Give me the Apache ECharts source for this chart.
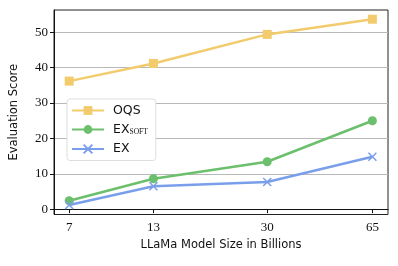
<!DOCTYPE html>
<html><head><meta charset="utf-8">
<script src="https://cdn.jsdelivr.net/npm/echarts@6/dist/echarts.min.js"></script>
<style>html,body{margin:0;padding:0;background:#fff}#c{width:398px;height:266px}</style>
</head><body><div id="c"></div>
<script>
const sizes = [7, 13, 30, 65];
const oqs = [36.2, 41.2, 49.4, 53.7];
const exSoft = [2.4, 8.6, 13.4, 25.0];
const ex = [1.2, 6.5, 7.7, 14.8];
const yTicks = [0, 10, 20, 30, 40, 50];
const seriesNames = ['OQS', 'EX_SOFT', 'EX'];
const colors = ['#F2CB6C', '#6CBF6C', '#7A9FEA'];

const pair = (xs, ys) => xs.map((x, i) => [x, ys[i]]);
const chart = echarts.init(document.getElementById('c'), null, {renderer: 'canvas'});
const serif = 'Liberation Serif';
const sans = 'DejaVu Sans';
chart.setOption({
  animation: false,
  grid: {left: 52, right: 10, top: 10, bottom: 51.5, show: true, borderColor: '#222', borderWidth: 1, backgroundColor: 'transparent'},
  xAxis: {
    type: 'log', logBase: 10, min: 6.26, max: 72.9,
    name: 'LLaMa Model Size in Billions', nameLocation: 'middle', nameGap: 23,
    nameTextStyle: {fontFamily: sans, fontSize: 11.5, color: '#111'},
    axisLine: {show: true, lineStyle: {color: '#111', width: 1}},
    axisTick: {show: true, customValues: sizes, length: 4, lineStyle: {color: '#111'}},
    axisLabel: {customValues: sizes, fontFamily: serif, fontSize: 13, color: '#111', margin: 7},
    splitLine: {show: false}, minorTick: {show: false}, minorSplitLine: {show: false}
  },
  yAxis: {
    type: 'value', min: -1.5, max: 56.3,
    name: 'Evaluation Score', nameLocation: 'middle', nameGap: 34,
    nameTextStyle: {fontFamily: sans, fontSize: 11.5, color: '#111'},
    axisLine: {show: true, lineStyle: {color: '#111', width: 1}},
    axisTick: {show: true, customValues: yTicks, length: 4, lineStyle: {color: '#111'}},
    axisLabel: {customValues: yTicks, fontFamily: serif, fontSize: 13, color: '#111', margin: 6},
    splitLine: {show: true, lineStyle: {color: '#b8b8b8', width: 1}}
  },
  legend: {
    left: 67, top: 99, orient: 'vertical', itemWidth: 32, itemHeight: 11, itemGap: 6,
    padding: [5, 8, 5, 4],
    backgroundColor: '#fff', borderColor: '#ddd', borderWidth: 1, borderRadius: 3,
    textStyle: {fontFamily: sans, fontSize: 12.5, color: '#111', padding: [0, 0, 0, 4],
      rich: {sub: {fontFamily: serif, fontSize: 7.5, verticalAlign: 'bottom', padding: [6, 0, 0, 0], color: '#111'}}},
    formatter: n => n === 'EX_SOFT' ? 'EX{sub|SOFT}' : n,
    data: seriesNames
  },
  series: [
    {name: seriesNames[0], type: 'line', data: pair(sizes, oqs), color: colors[0], symbol: 'rect', symbolSize: 9, lineStyle: {width: 2.5}},
    {name: seriesNames[1], type: 'line', data: pair(sizes, exSoft), color: colors[1], symbol: 'circle', symbolSize: 9, lineStyle: {width: 2.5}},
    {name: seriesNames[2], type: 'line', data: pair(sizes, ex), color: colors[2], symbol: 'path://M0,0L10,10M10,0L0,10', symbolSize: 8,
      itemStyle: {color: colors[2], borderColor: colors[2], borderWidth: 1.5}, lineStyle: {width: 2.5}}
  ]
});
</script></body></html>
